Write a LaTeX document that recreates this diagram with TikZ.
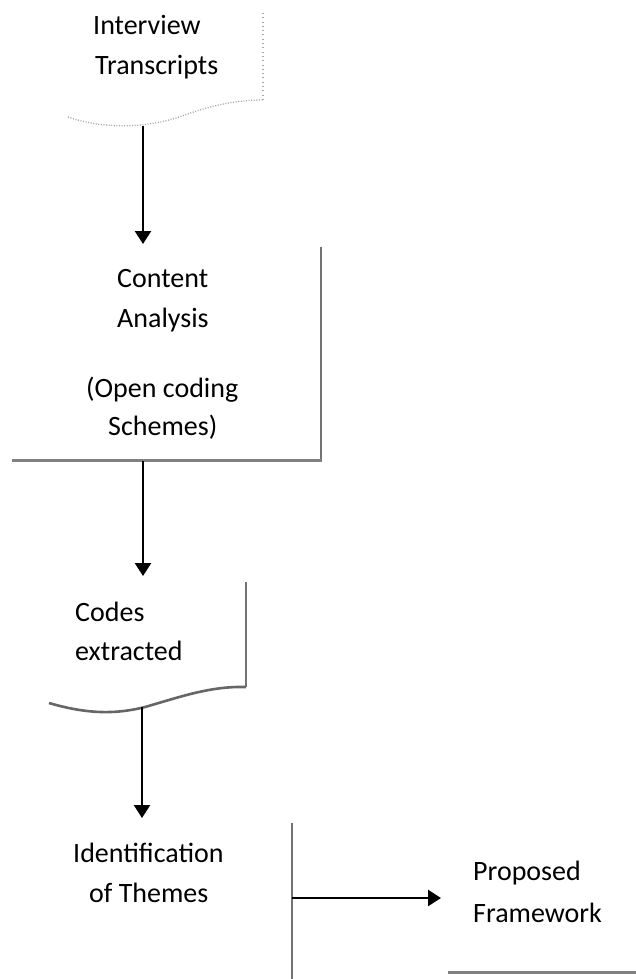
\documentclass[tikz,border=0pt]{standalone}
\usepackage{fontspec}
\setmainfont{Carlito}
\usetikzlibrary{arrows.meta}

\begin{document}
\begin{tikzpicture}[x=1pt,y=-1pt,
  label/.style={anchor=base west,inner sep=0pt,font=\fontsize{28}{40}\selectfont},
  flow/.style={line width=2.5pt,-{Triangle[width=16pt,length=13pt]}},
  edge/.style={draw=black!55,line width=1.4pt},
  heavyedge/.style={draw=black!50,line width=3pt},
  faintedge/.style={draw=black!35,line width=1.3pt,dash pattern=on 1pt off 1.6pt},
]
\useasboundingbox[fill=white] (0,0) rectangle (636,979);

% Stage 1: transcripts (document-style box, faint border)
\node[label] (int1) at (93,35) {Interview};
\node[label] (int2) at (95,75) {Transcripts};
\draw[faintedge,dash pattern=on 0.8pt off 3.5pt] (263,13) -- (263,100);
\draw[faintedge] (68,117) .. controls (105,130) and (150,128) .. (185,115)
                 .. controls (215,104) and (240,100) .. (263,100);
\coordinate (tbot) at (143,126);

% Stage 2: content analysis
\node[label] (ca1) at (117,287) {Content};
\node[label] (ca2) at (117,327) {Analysis};
\node[label] (ca3) at (86,397) {(Open coding};
\node[label] (ca4) at (108,435) {Schemes)};
\draw[edge] (321,247) -- (321,461);
\draw[heavyedge] (12,460) -- (322,460);
\coordinate (ctop) at (143,244);
\coordinate (cbot) at (143,461);

% Stage 3: extracted codes (document-style box)
\node[label] (cd1) at (75,621) {Codes};
\node[label] (cd2) at (75,660) {extracted};
\draw[edge] (246,582) -- (246,687);
\draw[draw=black!60,line width=2.6pt] (49,703) .. controls (80,712) and (110,716) .. (145,707)
                 .. controls (180,697) and (210,686) .. (246,687);
\coordinate (xtop) at (143,576);
\coordinate (xbot) at (142,707);

% Stage 4: themes
\node[label] (th1) at (73,862) {Identification};
\node[label] (th2) at (89,902) {of Themes};
\draw[edge] (292,823) -- (292,979);
\coordinate (thtop) at (142,818);
\coordinate (thside) at (292,898);

% Stage 5: framework
\node[label] (fw1) at (473,880) {Proposed};
\node[label] (fw2) at (473,922) {Framework};
\draw[heavyedge] (448,972) -- (636,972);
\coordinate (fwin) at (441,898);

% Flow arrows
\draw[flow] (tbot) -- (ctop);
\draw[flow] (cbot) -- (xtop);
\draw[flow] (xbot) -- (thtop);
\draw[flow] (thside) -- (fwin);
\end{tikzpicture}
\end{document}
